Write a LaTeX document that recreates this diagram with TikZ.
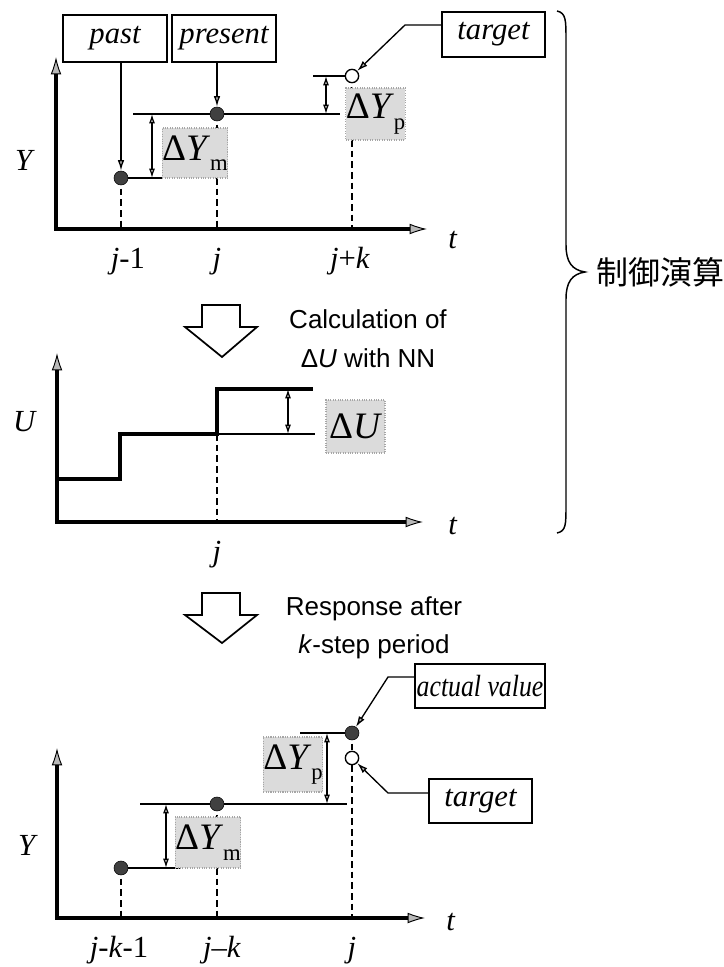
\documentclass[tikz,border=0pt]{standalone}
\usepackage{graphicx}
\usepackage{fontspec}
\setmainfont{Liberation Serif}
\setsansfont{Liberation Sans}
\newfontfamily\cjkfont{Noto Sans CJK JP}
\usetikzlibrary{arrows.meta,calc,backgrounds}
\newcommand\dYsub[1]{Δ\textit{Y}\raisebox{-0.28em}{\fontsize{17}{17}\selectfont #1}}
\begin{document}
\begin{tikzpicture}[x=0.75pt,y=-0.75pt,
 axhead/.tip={Latex[length=13pt,width=8pt,fill=gray!55,line width=0.7pt]},
 smhead/.tip={Latex[length=7pt,width=4.5pt,fill=gray!60]},
 ax/.style={line width=2.6pt,axhead-axhead},
 thinl/.style={line width=1.1pt},
 steppath/.style={line width=2.6pt,line join=miter},
 dsh/.style={line width=1.1pt,dash pattern=on 5pt off 3pt},
 dbl/.style={line width=0.9pt,smhead-smhead},
 ptr/.style={line width=1pt,-{Latex[length=8pt,width=5pt,fill=gray!60]}},
 dot/.style={circle,fill=black!75,draw=black,minimum size=10.5pt,inner sep=0pt},
 odot/.style={circle,fill=white,draw=black,line width=1pt,minimum size=10pt,inner sep=0pt},
 lbox/.style={draw,line width=1pt,inner sep=0pt,fill=white,font=\fontsize{23}{27}\selectfont\itshape},
 gbox/.style={fill=gray!28,draw=gray!70,densely dotted,line width=0.8pt,inner sep=0pt,font=\fontsize{28}{32}\selectfont},
 axl/.style={font=\fontsize{23}{27}\selectfont},
 sl/.style={font=\fontsize{19.5}{23}\selectfont\sffamily},
 hollow/.style={line width=1.3pt,fill=white,line join=miter}
]
\useasboundingbox (0,0) rectangle (724,967);

% ================= top graph =================
\coordinate (o1) at (56,229);
\coordinate (y1) at (56,57);
\coordinate (x1) at (427,229);
\node[lbox,minimum width=78pt,minimum height=35.25pt] (past) at (115,38.5) {past};
\node[lbox,minimum width=78pt,minimum height=35.25pt] (present) at (224,38.5) {present};
\node[lbox,minimum width=77.25pt,minimum height=33.75pt] (tgt1) at (493.5,34.5) {target};
\node[gbox,minimum width=46.5pt,minimum height=37.5pt] (dym1) at (195,153) {\dYsub{m}};
\node[gbox,minimum width=44.25pt,minimum height=39pt] (dyp1) at (375.5,114) {\dYsub{p}};
\node[dot] (pd1) at (121,178) {};
\node[dot] (pr1) at (217,114) {};
\node[odot] (tc1) at (352,76) {};
\node[axl] (yl1) at (25,160) {\textit{Y}};
\node[axl] (tl1) at (453,240) {\textit{t}};
\node[axl,anchor=base] (j1a) at (128,268) {\textit{j}-1};
\node[axl,anchor=base] (j1b) at (217,268) {\textit{j}};
\node[axl,anchor=base] (j1c) at (350,268) {\textit{j}+\textit{k}};
\coordinate (h1a) at (133,114);
\coordinate (h1b) at (340,114);
\coordinate (h1c) at (313,76);
\coordinate (m1a) at (152,114);
\coordinate (m1b) at (152,178);
\coordinate (p1a) at (326,76);
\coordinate (p1b) at (326,114);
\coordinate (k1) at (405,25);
\begin{scope}[on background layer]
\draw[ax] (y1) -- (o1) -- (x1);
\draw[dsh] (pd1.center) -- (pd1 |- o1);
\draw[dsh] (pr1.center) -- (pr1 |- o1);
\draw[dsh] (tc1.center) -- (tc1 |- o1);
\draw[thinl] (pd1.center) -- (dym1.west |- pd1);
\draw[thinl] (h1a) -- (h1b);
\draw[thinl] (h1c) -- (tc1.west);
\draw[dbl] (m1a) -- (m1b);
\draw[dbl] (p1a) -- (p1b);
\end{scope}
\draw[ptr] (past.south -| pd1) -- (pd1.north);
\draw[ptr] (present.south -| pr1) -- (pr1.north);
\draw[ptr] (tgt1.west |- k1) -- (k1) -- (tc1);

% ================= brace =================
\coordinate (b1) at (557,11);
\coordinate (b2) at (585,272);
\coordinate (b3) at (557,533);
\draw[line width=1.1pt] (b1) .. controls (566,13) and (566,20) .. (566,40) -- (566,245)
  .. controls (566,262) and (572,270) .. (b2)
  .. controls (572,274) and (566,282) .. (566,299) -- (566,505)
  .. controls (566,525) and (566,531) .. (b3);
\node[anchor=west,font=\fontsize{24}{28}\selectfont\cjkfont] (ctl) at (592,272) {制御演算};

% ================= first hollow arrow + text =================
\draw[hollow] (202,305) -- (240,305) -- (240,327) -- (257,327) -- (222,357) -- (185,327) -- (202,327) -- cycle;
\node[sl,anchor=base] (c1) at (368,328) {Calculation of};
\node[sl,anchor=base] (c2) at (368,367) {Δ\textit{U} with NN};

% ================= middle graph =================
\coordinate (o2) at (57,522);
\coordinate (y2) at (57,353);
\coordinate (x2) at (423,522);
\node[axl] (ul) at (25,422) {\textit{U}};
\node[axl] (tl2) at (453,526) {\textit{t}};
\node[axl,anchor=base] (j2) at (217,561) {\textit{j}};
\node[gbox,minimum width=44.25pt,minimum height=39.75pt] (du) at (355.5,426.5) {Δ\textit{U}};
\coordinate (s0) at (57,479);
\coordinate (s1) at (120,479);
\coordinate (s2) at (120,434);
\coordinate (s3) at (217,434);
\coordinate (s4) at (217,389);
\coordinate (s5) at (313,389);
\coordinate (s6) at (315,434);
\coordinate (u1a) at (288,389);
\coordinate (u1b) at (288,434);
\begin{scope}[on background layer]
\draw[ax] (y2) -- (o2) -- (x2);
\draw[dsh] (s3) -- (s3 |- o2);
\draw[thinl] (s3) -- (s6);
\draw[steppath] (s0) -- (s1) -- (s2) -- (s3) -- (s4) -- (s5);
\draw[dbl] (u1a) -- (u1b);
\end{scope}

% ================= second hollow arrow + text =================
\draw[hollow] (202,593) -- (240,593) -- (240,615) -- (257,615) -- (222,643) -- (185,615) -- (202,615) -- cycle;
\node[sl,anchor=base] (r1) at (374,615) {Response after};
\node[sl,anchor=base] (r2) at (374,653) {\textit{k}-step period};

% ================= bottom graph =================
\coordinate (o3) at (57,918);
\coordinate (y3) at (57,748);
\coordinate (x3) at (425,918);
\node[lbox,minimum width=97.5pt,minimum height=33pt] (act) at (480,686) {\scalebox{0.84}[1]{actual value}};
\node[lbox,minimum width=77.25pt,minimum height=33pt] (tgt3) at (480.5,801) {target};
\node[gbox,minimum width=45pt,minimum height=38.25pt] (dym3) at (208,842.5) {\dYsub{m}};
\node[gbox,minimum width=43.5pt,minimum height=41.25pt] (dyp3) at (293,764.5) {\dYsub{p}};
\node[dot] (pd3) at (121,868) {};
\node[dot] (pr3) at (217,804) {};
\node[dot] (ad3) at (352,733) {};
\node[odot] (tc3) at (352,758) {};
\node[axl] (yl3) at (28,845) {\textit{Y}};
\node[axl] (tl3) at (451,922) {\textit{t}};
\node[axl,anchor=base] (j3a) at (119,957) {\textit{j}-\textit{k}-1};
\node[axl,anchor=base] (j3b) at (222,957) {\textit{j}–\textit{k}};
\node[axl,anchor=base] (j3c) at (352,957) {\textit{j}};
\coordinate (h3a) at (140,804);
\coordinate (h3b) at (347,804);
\coordinate (h3c) at (300,733);
\coordinate (h3d) at (180,868);
\coordinate (m3a) at (166,804);
\coordinate (m3b) at (166,868);
\coordinate (p3a) at (327,733);
\coordinate (p3b) at (327,804);
\coordinate (k3a) at (388,677);
\coordinate (k3b) at (388,793);
\begin{scope}[on background layer]
\draw[ax] (y3) -- (o3) -- (x3);
\draw[dsh] (pd3.center) -- (pd3 |- o3);
\draw[dsh] (pr3.center) -- (pr3 |- o3);
\draw[dsh] (ad3.center) -- (ad3 |- o3);
\draw[thinl] (pd3.center) -- (h3d);
\draw[thinl] (h3a) -- (h3b);
\draw[thinl] (h3c) -- (ad3.center);
\draw[dbl] (m3a) -- (m3b);
\draw[dbl] (p3a) -- (p3b);
\end{scope}
\draw[ptr] (act.west |- k3a) -- (k3a) -- (ad3);
\draw[ptr] (tgt3.west |- k3b) -- (k3b) -- (tc3);
\end{tikzpicture}
\end{document}
